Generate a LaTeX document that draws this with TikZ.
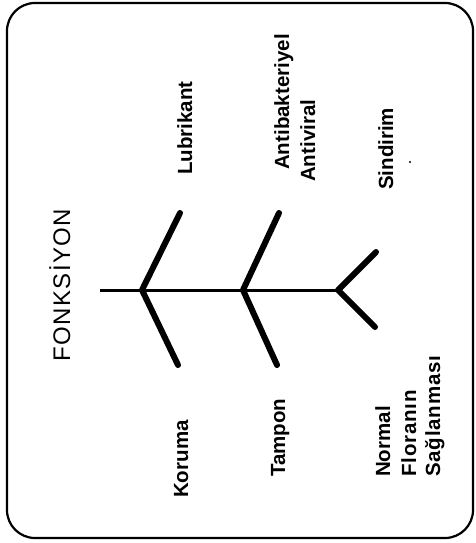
\documentclass[tikz,border=0pt]{standalone}
\usepackage{fontspec}
\setmainfont{Liberation Sans}
\newfontfamily\lblfont{Liberation Sans}
\newfontfamily\widefont[LetterSpace=4]{Liberation Sans}
\newfontfamily\titlefont[LetterSpace=6]{Liberation Sans}
\begin{document}
\begin{tikzpicture}[x=1pt,y=-1pt,
  lbl/.style={rotate=90,anchor=base west,inner sep=0pt,font=\lblfont\bfseries\fontsize{20.5}{24}\selectfont},
  widelbl/.style={rotate=90,anchor=base west,inner sep=0pt,font=\widefont\bfseries\fontsize{20.5}{24}\selectfont},
  bone/.style={line width=6pt,line cap=round,line join=round},
  spine/.style={line width=3pt,line cap=butt},
  frame/.style={line width=2.2pt,rounded corners=28pt}]
\useasboundingbox (0,0) rectangle (476,543);
\draw[frame] (7,3) rectangle (473,538);
% title
\node[rotate=90,anchor=base west,inner sep=0pt,font=\titlefont\fontsize{24}{28}\selectfont] (title) at (70,362) {FONKSİYON};
% skeleton coordinates
\coordinate (s0) at (100,290);
\coordinate (j1) at (142,290);
\coordinate (j2) at (243,290);
\coordinate (j3) at (338,290);
\coordinate (u1) at (180,213);
\coordinate (l1) at (178,365);
\coordinate (u2) at (279,213);
\coordinate (l2) at (277,365);
\coordinate (u3) at (376,252);
\coordinate (l3) at (375,327);
\draw[spine] (s0) -- (j1) -- (j2) -- (j3);
\draw[bone] (u1) -- (j1) -- (l1);
\draw[bone] (u2) -- (j2) -- (l2);
\draw[bone] (u3) -- (j3) -- (l3);
% labels
\node[lbl] (lub) at (192,175) {Lubrikant};
\node[lbl] (antib) at (289,170) {Antibakteriyel};
\node[lbl] (antiv) at (315,182) {Antiviral};
\node[lbl] (sind) at (393,190) {Sindirim};
\node[lbl] (kor) at (188,498) {Koruma};
\node[lbl] (tam) at (285,477) {Tampon};
\node[lbl] (nor) at (390,477) {Normal};
\node[widelbl] (flo) at (416,477) {Floranın};
\node[widelbl] (sag) at (440,477) {Sağlanması};
\fill (410,162) circle (1.2pt);
\end{tikzpicture}
\end{document}
